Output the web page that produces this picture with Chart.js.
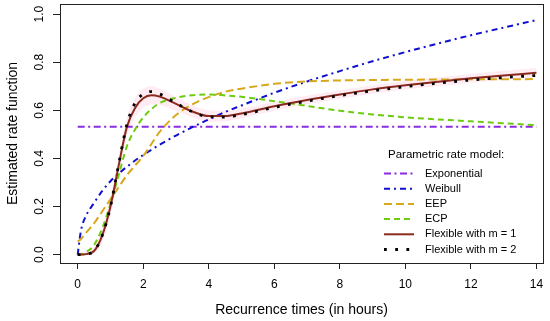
<!DOCTYPE html>
<html>
<head>
<meta charset="utf-8">
<script src="https://cdn.jsdelivr.net/npm/chart.js@4.4.1/dist/chart.umd.min.js"></script>
<style>
  html, body { margin: 0; padding: 0; background: #fff; }
  canvas { display: block; }
</style>
</head>
<body>
<canvas id="rateChart" width="550" height="321"></canvas>
<script>
const times = [0, 0.1, 0.25, 0.5, 0.75, 1, 1.25, 1.5, 1.75, 2, 2.25, 2.5, 3, 3.5, 4, 4.5, 5, 6, 7, 8, 9, 10, 11, 12, 13, 14];

const exponential = [0.532, 0.532, 0.532, 0.532, 0.532, 0.532, 0.532, 0.532, 0.532, 0.532, 0.532, 0.532, 0.532, 0.532, 0.532, 0.532, 0.532, 0.532, 0.532, 0.532, 0.532, 0.532, 0.532, 0.532, 0.532, 0.532];
const weibull = [0, 0.1, 0.16, 0.215, 0.265, 0.305, 0.337, 0.365, 0.391, 0.414, 0.436, 0.457, 0.495, 0.53, 0.562, 0.593, 0.62, 0.673, 0.72, 0.763, 0.804, 0.842, 0.878, 0.912, 0.944, 0.975];
const eep = [0.054, 0.065, 0.09, 0.13, 0.18, 0.23, 0.28, 0.33, 0.37, 0.41, 0.46, 0.51, 0.58, 0.625, 0.655, 0.677, 0.69, 0.71, 0.72, 0.724, 0.726, 0.727, 0.728, 0.729, 0.729, 0.73];
const ecp = [0, 0, 0.01, 0.04, 0.11, 0.21, 0.33, 0.45, 0.52, 0.57, 0.605, 0.63, 0.652, 0.663, 0.666, 0.662, 0.656, 0.638, 0.618, 0.598, 0.583, 0.571, 0.562, 0.554, 0.546, 0.538];
const flexM1 = [0, 0, 0.002, 0.015, 0.08, 0.2, 0.37, 0.53, 0.61, 0.65, 0.663, 0.657, 0.627, 0.595, 0.576, 0.576, 0.587, 0.617, 0.643, 0.666, 0.687, 0.704, 0.719, 0.733, 0.745, 0.756];
const flexM2 = [0, 0, 0.002, 0.015, 0.08, 0.2, 0.375, 0.54, 0.63, 0.668, 0.678, 0.668, 0.63, 0.594, 0.573, 0.572, 0.582, 0.612, 0.638, 0.661, 0.681, 0.698, 0.713, 0.726, 0.736, 0.745];

// faint pink band behind the flexible fit
const bandUpper = [0.01, 0.01, 0.015, 0.035, 0.11, 0.24, 0.41, 0.57, 0.65, 0.69, 0.7, 0.69, 0.655, 0.62, 0.6, 0.598, 0.607, 0.635, 0.66, 0.683, 0.704, 0.722, 0.737, 0.751, 0.764, 0.776];
const bandLower = [0, 0, 0, 0.005, 0.05, 0.16, 0.33, 0.49, 0.57, 0.61, 0.625, 0.622, 0.598, 0.57, 0.552, 0.554, 0.567, 0.598, 0.625, 0.648, 0.669, 0.686, 0.701, 0.715, 0.727, 0.737];

const xTicks = [0, 2, 4, 6, 8, 10, 12, 14];
const yTicks = [0, 0.2, 0.4, 0.6, 0.8, 1.0];

const FONT = '"Liberation Sans", Arial, Helvetica, sans-serif';

function pts(vals) {
    return times.map((t, i) => ({ x: t, y: vals[i] }));
}

function series(label, vals, color, width, dash, order) {
    return {
        label: label,
        data: pts(vals),
        borderColor: color,
        borderWidth: width,
        borderDash: dash,
        borderCapStyle: 'butt',
        pointRadius: 0,
        fill: false,
        cubicInterpolationMode: 'monotone',
        order: order
    };
}

function bandEdge(vals, fill, order) {
    return {
        label: '',
        band: true,
        data: pts(vals),
        borderWidth: 0,
        borderColor: 'rgba(0,0,0,0)',
        backgroundColor: 'rgba(255, 200, 222, 0.35)',
        pointRadius: 0,
        fill: fill,
        cubicInterpolationMode: 'monotone',
        order: order
    };
}

// R style box around the plot region
const boxPlugin = {
    id: 'box',
    afterDraw(chart) {
        const a = chart.chartArea;
        const ctx = chart.ctx;
        ctx.save();
        ctx.strokeStyle = '#222';
        ctx.lineWidth = 1;
        ctx.strokeRect(Math.round(a.left) + 0.5, Math.round(a.top) + 0.5,
            Math.round(a.right - a.left), Math.round(a.bottom - a.top));
        ctx.restore();
    }
};

// legend without a frame, placed inside the plot like R's legend()
const legendPlugin = {
    id: 'rLegend',
    afterDraw(chart) {
        const ctx = chart.ctx;
        ctx.save();
        ctx.font = '11.5px ' + FONT;
        ctx.fillStyle = '#000';
        ctx.textBaseline = 'middle';
        ctx.fillText('Parametric rate model:', 388, 155);
        ctx.font = '11px ' + FONT;
        chart.data.datasets.filter(ds => !ds.band).forEach((ds, i) => {
            const y = 173.5 + i * 15.2;
            ctx.beginPath();
            ctx.strokeStyle = ds.borderColor;
            ctx.lineWidth = ds.borderWidth;
            ctx.setLineDash(ds.borderDash || []);
            ctx.moveTo(384, y);
            ctx.lineTo(414, y);
            ctx.stroke();
            ctx.setLineDash([]);
            ctx.fillText(ds.label, 425, y);
        });
        ctx.restore();
    }
};

const config = {
    type: 'line',
    data: {
        datasets: [
            series('Exponential', exponential, '#8a2be2', 2, [7, 3.5, 2, 3.5], 6),
            series('Weibull', weibull, '#1010d0', 2, [6, 4, 2, 4], 5),
            series('EEP', eep, '#d8a81c', 2, [8, 4], 4),
            series('ECP', ecp, '#6ccd10', 2, [6, 4], 3),
            series('Flexible with m = 1', flexM1, '#8b2a1f', 2, [], 2),
            series('Flexible with m = 2', flexM2, '#000000', 2.8, [2.8, 8.4], 1),
            bandEdge(bandUpper, false, 9),
            bandEdge(bandLower, '-1', 8)
        ]
    },
    options: {
        responsive: false,
        animation: false,
        layout: { padding: { top: 4, right: 7, left: 0, bottom: 0 } },
        plugins: {
            legend: { display: false },
            tooltip: { enabled: false },
            filler: { propagate: false }
        },
        scales: {
            x: {
                type: 'linear',
                min: -0.54,
                max: 14.2,
                afterFit(scale) {
                    scale.height = 58;
                    scale.paddingLeft = 0;
                    scale.paddingRight = 0;
                },
                afterBuildTicks(scale) { scale.ticks = xTicks.map(v => ({ value: v })); },
                border: { display: false },
                grid: { drawOnChartArea: false, drawTicks: true, tickLength: 6, color: '#222' },
                ticks: {
                    color: '#000',
                    padding: 8,
                    maxRotation: 0,
                    font: { family: FONT, size: 12 },
                    callback: v => String(v)
                },
                title: {
                    display: true,
                    text: 'Recurrence times (in hours)',
                    color: '#000',
                    font: { family: FONT, size: 14 },
                    padding: { top: 2, bottom: 2 }
                }
            },
            y: {
                type: 'linear',
                min: -0.035,
                max: 1.042,
                afterFit(scale) {
                    scale.width = 60;
                    scale.paddingTop = 0;
                    scale.paddingBottom = 0;
                },
                afterBuildTicks(scale) { scale.ticks = yTicks.map(v => ({ value: v })); },
                border: { display: false },
                grid: { drawOnChartArea: false, drawTicks: true, tickLength: 7, color: '#222' },
                ticks: {
                    color: '#000',
                    padding: 5,
                    minRotation: 90,
                    maxRotation: 90,
                    crossAlign: 'center',
                    font: { family: FONT, size: 12 },
                    callback: v => v.toFixed(1)
                },
                title: {
                    display: true,
                    text: 'Estimated rate function',
                    color: '#000',
                    font: { family: FONT, size: 14 },
                    padding: { top: 4.5, bottom: 2 }
                }
            }
        }
    },
    plugins: [boxPlugin, legendPlugin]
};

var rateChart = new Chart(document.getElementById('rateChart'), config);
</script>
</body>
</html>
